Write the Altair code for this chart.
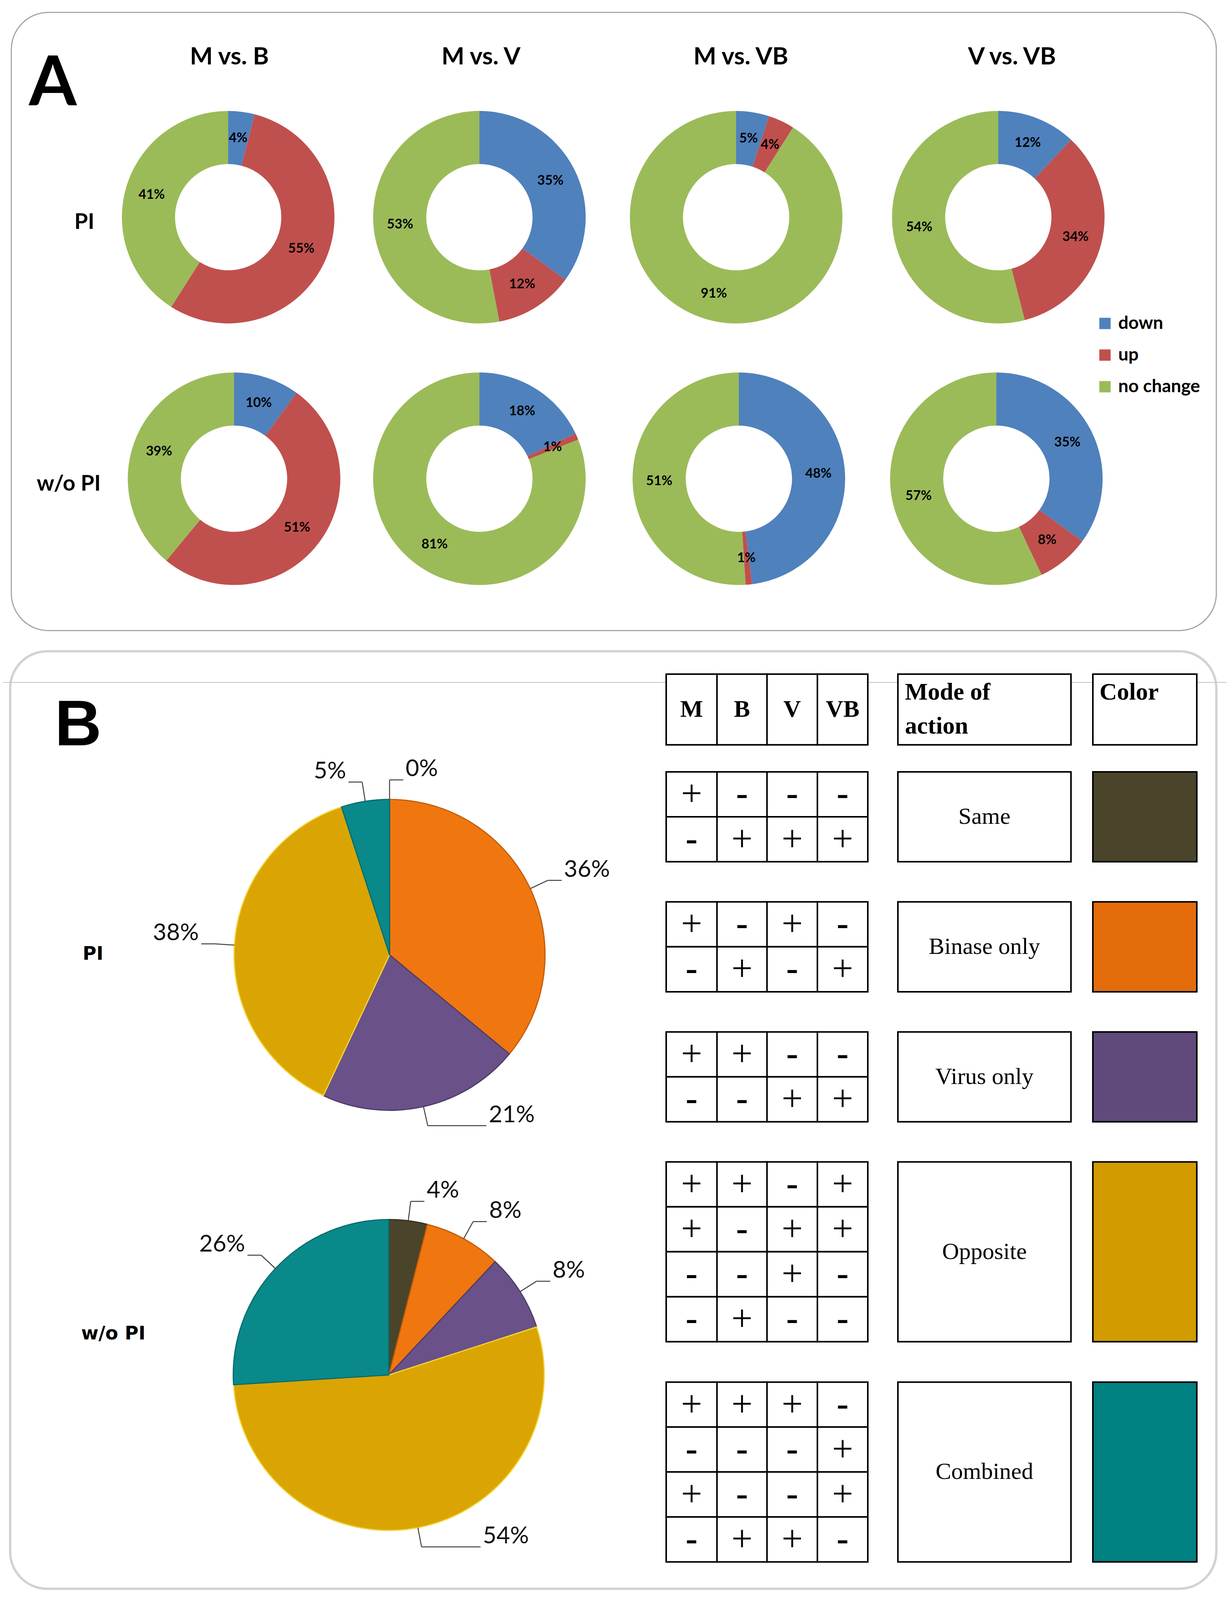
import math
import altair as alt
import pandas as pd

# ---------------- data ----------------
comparisons = ["M vs. B", "M vs. V", "M vs. VB", "V vs. VB"]
conditions = ["PI", "w/o PI"]
directions = ["down", "up", "no change"]
pct_down = {"PI": [4, 35, 5, 12], "w/o PI": [10, 18, 48, 35]}
pct_up = {"PI": [55, 12, 4, 34], "w/o PI": [51, 1, 1, 8]}
pct_nochange = {"PI": [41, 53, 91, 54], "w/o PI": [39, 81, 51, 57]}

modes = ["Same", "Binase only", "Virus only", "Opposite", "Combined"]
pct_mode = {"PI": [0, 36, 21, 38, 5], "w/o PI": [4, 8, 8, 54, 26]}
table_cols = ["M", "B", "V", "VB"]
mode_signs = {
    "Same": ["+---", "-+++"],
    "Binase only": ["+-+-", "-+-+"],
    "Virus only": ["++--", "--++"],
    "Opposite": ["++-+", "+-++", "--+-", "-+--"],
    "Combined": ["+++-", "---+", "+--+", "-++-"],
}
header_mode = ["Mode of", "action"]
header_color = ["Color"]
panel_letters = ["A", "B"]

# ---------------- styles ----------------
dir_colors = ["#4F81BD", "#C0504D", "#9BBB59"]
pie_colors = ["#4A452A", "#F07610", "#6A5189", "#DAA503", "#0A898A"]
pie_edges = ["#35311E", "#C45C08", "#4E3C68", "#F3D53C", "#066B6D"]
swatch_colors = ["#4A452A", "#E46C0A", "#604A7B", "#D29B00", "#008080"]

# ---------------- layout ----------------
# layout constants are given in reference-image pixels; the visible page is a
# little shorter than the reference, so the vertical scale compresses by K.
W = 3132
OFF = 8
K = 0.962
HC = 4081
XS = alt.Scale(domain=[OFF, OFF + W], nice=False, zero=False)
YS = alt.Scale(domain=[OFF / K, (HC + OFF) / K], nice=False, zero=False, reverse=True)
TS = alt.Scale(domain=[0, 100], range=[0, math.tau])

DONUT_CX = {"PI": [584, 1227, 1884, 2555], "w/o PI": [599, 1227, 1891, 2550]}
DONUT_CY = {"PI": 578, "w/o PI": 1274}
R_OUT, R_IN = 272, 136
R_LAB = (R_OUT + R_IN) / 2
TITLE_X = [587, 1231, 1896, 2590]
TITLE_Y = 171
ROWLAB_A = {"PI": (216, 591), "w/o PI": (176, 1288)}

PIE_CX = {"PI": 997, "w/o PI": 995}
PIE_CY = {"PI": 2541, "w/o PI": 3659}
R_PIE = 398
ROWLAB_B = {"PI": (238, 2540), "w/o PI": (290, 3550)}

COL_X = [1705, 1835, 1963, 2092, 2221]
HEAD_Y = (1794, 1982)
MODE_X = (2298, 2741)
SWATCH_X = (2797, 3063)
GROUP_TOP = [2054, 2400, 2746, 3092, 3678]
RH = 119.6


def pos(xf, yf):
    return dict(x=alt.X(f"{xf}:Q", scale=XS, axis=None), y=alt.Y(f"{yf}:Q", scale=YS, axis=None))


def text_layer(df, font, size, weight="normal", align="center", baseline="middle", color="black"):
    return alt.Chart(df).mark_text(
        font=font, fontSize=size, fontWeight=weight, align=align, baseline=baseline, color=color
    ).encode(**pos("x", "y"), text="text:N")


def rect_layer(df, **mark):
    return alt.Chart(df).mark_rect(**mark).encode(
        x=alt.X("x0:Q", scale=XS, axis=None), x2=alt.X2("x1"),
        y=alt.Y("y0:Q", scale=YS, axis=None), y2=alt.Y2("y1"))


# ---------------- panel A: donuts ----------------
rows = []
for cond in conditions:
    for j, comp in enumerate(comparisons):
        vals = [pct_down[cond][j], pct_up[cond][j], pct_nochange[cond][j]]
        cum = 0
        for k, d in enumerate(directions):
            v = vals[k]
            a = math.tau * (cum + v / 2) / 100
            cx, cy = DONUT_CX[cond][j], DONUT_CY[cond]
            rows.append(dict(cond=cond, comp=comp, direction=d, value=v, order=k,
                             cx=cx, cy=cy, t0=cum, t1=cum + v,
                             x=cx + R_LAB * math.sin(a), y=cy - R_LAB * math.cos(a) / K,
                             text=f"{v}%"))
            cum += v
donut = pd.DataFrame(rows)

donut_arcs = alt.Chart(donut).mark_arc(outerRadius=R_OUT, innerRadius=R_IN).encode(
    **pos("cx", "cy"),
    theta=alt.Theta("t0:Q", scale=TS, stack=False),
    theta2=alt.Theta2("t1"),
    color=alt.Color("direction:N", scale=alt.Scale(domain=directions, range=dir_colors),
                    legend=alt.Legend(title=None, orient="none", direction="vertical",
                                      legendX=2797, legendY=round(859 * K - OFF - 21),
                                      padding=0, symbolType="square", symbolSize=841,
                                      symbolStrokeWidth=0, symbolOpacity=1,
                                      labelFont="Lato", labelFontSize=46, labelLimit=500,
                                      labelFontWeight="bold", labelColor="black",
                                      labelOffset=11, rowPadding=35)),
    order=alt.Order("order:Q"),
)
donut_labels = text_layer(donut, "Lato", 34, "bold")

titles = pd.DataFrame(dict(text=comparisons, x=TITLE_X, y=[TITLE_Y] * 4))
title_layer = text_layer(titles, "Lato", 62, "bold", baseline="alphabetic")
rowlab_a = pd.DataFrame(dict(text=conditions, x=[ROWLAB_A[c][0] for c in conditions],
                             y=[ROWLAB_A[c][1] for c in conditions]))
rowlab_a_layer = text_layer(rowlab_a, "Lato", 56, "bold")

letter_a = pd.DataFrame(dict(text=panel_letters[:1], x=[74], y=[280]))
letter_a_layer = text_layer(letter_a, "Lato", 176, "bold", align="left", baseline="alphabetic")
letter_b = pd.DataFrame(dict(text=panel_letters[1:], x=[140], y=[1983]))
letter_b_layer = text_layer(letter_b, "Liberation Sans", 166, "bold", align="left", baseline="alphabetic")

# ---------------- frames ----------------
frames_a = pd.DataFrame(dict(x0=[29], x1=[3113], y0=[33], y1=[1678]))
frames_b = pd.DataFrame(dict(x0=[26], x1=[3113], y0=[1733], y1=[4228]))
frame_a_layer = rect_layer(frames_a, fillOpacity=0, stroke="#A6A6A6", strokeWidth=3, cornerRadius=95)
frame_b_layer = rect_layer(frames_b, fillOpacity=0, stroke="#D2D2D2", strokeWidth=6, cornerRadius=95)
sep = pd.DataFrame(dict(x0=[OFF], x1=[OFF + W], y0=[1816]))
sep_layer = alt.Chart(sep).mark_rule(color="#C4C4C4", strokeWidth=2).encode(
    x=alt.X("x0:Q", scale=XS, axis=None), x2=alt.X2("x1"),
    y=alt.Y("y0:Q", scale=YS, axis=None))

# ---------------- panel B: pies ----------------
prow, lead, lab_r, lab_l = [], [], [], []
for cond in conditions:
    cum = 0
    cx, cy = PIE_CX[cond], PIE_CY[cond]
    for k, m in enumerate(modes):
        v = pct_mode[cond][k]
        prow.append(dict(cond=cond, mode=m, value=v, order=k, cx=cx, cy=cy, t0=cum, t1=cum + v))
        a = math.tau * (cum + v / 2) / 100
        sa, ca = math.sin(a), math.cos(a)
        s = 1 if sa >= -1e-9 else -1
        ex, ey = cx + R_PIE * sa, cy - R_PIE * ca / K
        bx, by = cx + (R_PIE + 50) * sa, cy - (R_PIE + 50) * ca / K
        hx = bx + s * (35 + 118 * max(0.0, -ca))
        lead.append(dict(x0=ex, y0=ey, x1=bx, y1=by))
        lead.append(dict(x0=bx, y0=by, x1=hx, y1=by))
        lab = dict(text=f"{v}%", x=hx + s * 6, y=by - 27 / K)
        (lab_r if s > 0 else lab_l).append(lab)
        cum += v
pies = pd.DataFrame(prow)
pie_layer = alt.Chart(pies).mark_arc(outerRadius=R_PIE, strokeWidth=3, strokeJoin="round").encode(
    **pos("cx", "cy"),
    theta=alt.Theta("t0:Q", scale=TS, stack=False),
    theta2=alt.Theta2("t1"),
    fill=alt.Fill("mode:N", scale=alt.Scale(domain=modes, range=pie_colors), legend=None),
    stroke=alt.Stroke("mode:N", scale=alt.Scale(domain=modes, range=pie_edges), legend=None),
    order=alt.Order("order:Q"),
)
lead_layer = alt.Chart(pd.DataFrame(lead)).mark_rule(color="#404040", strokeWidth=2.5).encode(
    x=alt.X("x0:Q", scale=XS, axis=None), x2=alt.X2("x1"),
    y=alt.Y("y0:Q", scale=YS, axis=None), y2=alt.Y2("y1"))
pie_lab_r = text_layer(pd.DataFrame(lab_r), "Lato", 60, align="left", color="#111111")
pie_lab_l = text_layer(pd.DataFrame(lab_l), "Lato", 60, align="right", color="#111111")

rowlab_b = pd.DataFrame(dict(text=conditions, x=[ROWLAB_B[c][0] for c in conditions],
                             y=[ROWLAB_B[c][1] for c in conditions]))
rowlab_b_layer = text_layer(rowlab_b, "DejaVu Sans", 48, "bold")

# ---------------- panel B: table ----------------
cells, signs_txt = [], []
for c in range(4):
    cells.append(dict(x0=COL_X[c], x1=COL_X[c + 1], y0=HEAD_Y[0], y1=HEAD_Y[1]))
for g, m in enumerate(modes):
    for r, rowsig in enumerate(mode_signs[m]):
        y0 = GROUP_TOP[g] + r * RH
        for c, ch in enumerate(rowsig):
            cells.append(dict(x0=COL_X[c], x1=COL_X[c + 1], y0=y0, y1=y0 + RH))
            signs_txt.append(dict(text=ch, x=(COL_X[c] + COL_X[c + 1]) / 2, y=y0 + RH / 2))
boxes = [dict(x0=MODE_X[0], x1=MODE_X[1], y0=HEAD_Y[0], y1=HEAD_Y[1]),
         dict(x0=SWATCH_X[0], x1=SWATCH_X[1], y0=HEAD_Y[0], y1=HEAD_Y[1])]
for g, m in enumerate(modes):
    boxes.append(dict(x0=MODE_X[0], x1=MODE_X[1], y0=GROUP_TOP[g],
                      y1=GROUP_TOP[g] + len(mode_signs[m]) * RH))
cell_layer = rect_layer(pd.DataFrame(cells + boxes), fill="white", stroke="black", strokeWidth=4)

signs_df = pd.DataFrame(signs_txt)
plus_layer = text_layer(signs_df[signs_df.text == "+"], "Liberation Serif", 96)
minus_layer = text_layer(signs_df[signs_df.text == "-"], "Liberation Serif", 92, "bold")

head_df = pd.DataFrame(dict(text=table_cols, x=[(COL_X[i] + COL_X[i + 1]) / 2 for i in range(4)],
                            y=[(HEAD_Y[0] + HEAD_Y[1]) / 2] * 4))
head_layer = text_layer(head_df, "Liberation Serif", 62, "bold")
head2_df = pd.DataFrame(dict(text=header_mode + header_color,
                             x=[2316, 2316, 2814], y=[1862, 1952, 1862]))
head2_layer = text_layer(head2_df, "Liberation Serif", 62, "bold", align="left", baseline="alphabetic")

group_df = pd.DataFrame(dict(text=modes, x=[(MODE_X[0] + MODE_X[1]) / 2] * 5,
                             y=[GROUP_TOP[g] + len(mode_signs[m]) * RH / 2 for g, m in enumerate(modes)]))
group_layer = text_layer(group_df, "Liberation Serif", 60)

swatch_df = pd.DataFrame(dict(mode=modes, x0=[SWATCH_X[0]] * 5, x1=[SWATCH_X[1]] * 5,
                              y0=GROUP_TOP,
                              y1=[GROUP_TOP[g] + len(mode_signs[m]) * RH for g, m in enumerate(modes)]))
swatch_layer = alt.Chart(swatch_df).mark_rect(stroke="black", strokeWidth=4).encode(
    x=alt.X("x0:Q", scale=XS, axis=None), x2=alt.X2("x1"),
    y=alt.Y("y0:Q", scale=YS, axis=None), y2=alt.Y2("y1"),
    fill=alt.Fill("mode:N", scale=alt.Scale(domain=modes, range=swatch_colors), legend=None),
)

chart = alt.layer(
    frame_a_layer, frame_b_layer, sep_layer,
    donut_arcs, donut_labels, title_layer, rowlab_a_layer, letter_a_layer, letter_b_layer,
    pie_layer, lead_layer, pie_lab_r, pie_lab_l, rowlab_b_layer,
    cell_layer, plus_layer, minus_layer, head_layer, head2_layer, group_layer, swatch_layer,
).resolve_scale(fill="independent").properties(
    width=W, height=HC, padding=0, autosize=alt.AutoSizeParams(type="none"),
    background="white",
).configure_view(strokeWidth=0)

chart.save("out.html", embed_options={"renderer": "svg", "actions": False})
